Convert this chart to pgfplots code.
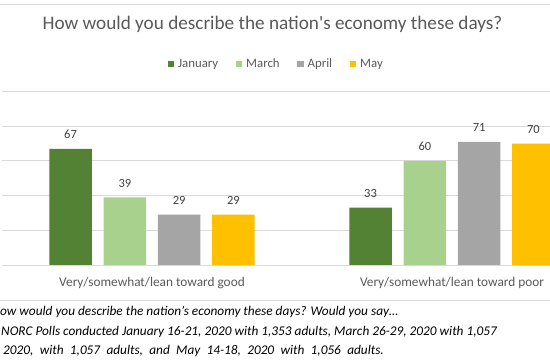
\documentclass[border=0pt]{standalone}
\usepackage{pgfplots}
\pgfplotsset{compat=1.18}
\usepackage{fontspec}
\setmainfont{Carlito}
\definecolor{jan}{HTML}{548235}
\definecolor{mar}{HTML}{A9D18E}
\definecolor{apr}{HTML}{A5A5A5}
\definecolor{may}{HTML}{FFC000}
\definecolor{gridc}{HTML}{D9D9D9}
\definecolor{txt}{HTML}{595959}
\definecolor{lab}{HTML}{404040}
\begin{document}
\begin{tikzpicture}[x=1pt,y=1pt]
\useasboundingbox (0,0) rectangle (550,364);
\clip (0,0) rectangle (550,364);
\draw[gridc, line width=1pt] (0,359) -- (550,359);
\draw[gridc, line width=1pt] (0,63.5) -- (550,63.5);
\begin{axis}[
  at={(2pt,99pt)}, anchor=south west,
  width=600pt, height=173.5pt, scale only axis,
  xmin=-0.5, xmax=1.5, ymin=0, ymax=100,
  ybar=11.8pt, bar width=42.5pt,
  xtick={0,1},
  xticklabels={Very/somewhat/lean toward good, Very/somewhat/lean toward poor},
  ytick={0,20,40,60,80,100}, yticklabels={},
  ymajorgrids, grid style={gridc, line width=0.9pt},
  axis line style={draw=none}, major tick length=0,
  xticklabel style={font=\fontsize{13.3}{15}\selectfont, text=txt, anchor=base, yshift=-21.7pt},
  nodes near coords,
  nodes near coords style={font=\fontsize{12.5}{14}\selectfont, text=lab, anchor=south, inner sep=0pt, yshift=10pt},
  /pgf/number format/assume math mode=true,
  title={How would you describe the nation\textquotesingle s economy these days?},
  title style={at={(0.4508,1.3504)}, anchor=center, font=\fontsize{19.2}{22}\selectfont, text=txt},
  legend columns=4,
  legend style={at={(0.457,1.158)}, anchor=center, draw=none, fill=none,
    font=\fontsize{12.8}{14}\selectfont, text=txt, inner sep=0pt,
    /tikz/every even column/.append style={column sep=15.5pt},
    /tikz/every odd column/.append style={column sep=2pt}},
  legend cell align=left,
  legend image code/.code={\fill[#1] (0pt,-3.3pt) rectangle (6.5pt,3.3pt);},
]
\addplot[fill=jan, draw=none] coordinates {(0,67) (1,33)};
\addplot[fill=mar, draw=none] coordinates {(0,39) (1,60)};
\addplot[fill=apr, draw=none] coordinates {(0,29) (1,71)};
\addplot[fill=may, draw=none] coordinates {(0,29) (1,70)};
\legend{January, March, April, May}
\end{axis}
\begin{scope}[font=\fontsize{13.3}{16}\selectfont\itshape]
\node[anchor=base west, inner sep=0pt] at (0,48) {ow would you describe the nation’s economy these days? Would you say…};
\node[anchor=base west, inner sep=0pt] at (1,28.5) {NORC Polls conducted January 16-21, 2020 with 1,353 adults, March 26-29, 2020 with 1,057};
\node[anchor=base west, inner sep=0pt] at (3,9) {\spaceskip=6.3pt\relax 2020, with 1,057 adults, and May 14-18, 2020 with 1,056 adults.};
\end{scope}
\end{tikzpicture}
\end{document}
